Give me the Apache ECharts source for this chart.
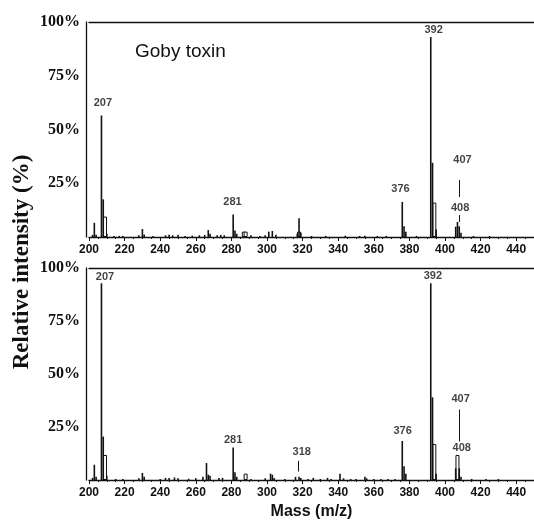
<!DOCTYPE html>
<html>
<head>
<meta charset="utf-8">
<script src="https://cdn.jsdelivr.net/npm/echarts@6/dist/echarts.min.js"></script>
<style>
  html, body { margin: 0; padding: 0; background: #fff; }
  #chart { width: 534px; height: 521px; }
</style>
</head>
<body>
<div id="chart"></div>
<script>
// mass spectra of goby toxin (top) and reference (bottom), [m/z, % intensity]
var topSticks = [
  [202, 1], [203, 6.6], [204, 1], [207, 56.5], [208, 17.5], [210, 1.5], [214, 0.5],
  [217, 0.5], [219, 0.5], [228, 0.8], [230, 3.7], [231, 1.2], [236, 0.5], [243, 0.8],
  [245, 1], [247, 0.8], [250, 1], [254, 0.5], [258, 0.6], [262, 0.8], [265, 1],
  [267, 3.2], [268, 1.5], [272, 0.8], [274, 1], [276, 0.8], [281, 10.5], [282, 3],
  [283, 1.5], [291, 0.8], [296, 0.5], [299, 0.8], [301, 2.5], [303, 2.8], [305, 1],
  [317, 1.5], [318, 8.7], [319, 2], [325, 0.5], [333, 0.5], [344, 0.6], [352, 0.5],
  [355, 0.6], [362, 0.5], [367, 0.5], [376, 16.3], [377, 5], [378, 2.5], [384, 0.5],
  [392, 93], [393, 34.5], [395, 3.5], [406, 4.8], [407, 7], [408, 5], [409, 2],
  [416, 0.5], [425, 0.5]
];
var topBoxes = [[209, 9.5], [287, 2.5], [288, 2.5], [318, 2.5], [394, 16]];

var bottomSticks = [
  [202, 1], [203, 7.2], [204, 1.5], [207, 92.8], [208, 20.5], [210, 2], [215, 0.5],
  [219, 0.5], [228, 0.8], [230, 3.3], [231, 1.5], [240, 0.5], [243, 1], [245, 1],
  [248, 1.2], [250, 0.8], [256, 0.6], [260, 0.8], [264, 1.5], [266, 8], [267, 2.5],
  [268, 2], [273, 1], [275, 1], [281, 15.3], [282, 3.7], [283, 1.5], [291, 0.5],
  [299, 0.8], [302, 3], [303, 2.5], [304, 1], [310, 0.5], [316, 1.5], [318, 1.5],
  [319, 1], [323, 0.5], [326, 1], [330, 0.5], [334, 1], [336, 0.5], [341, 3],
  [343, 0.8], [347, 0.5], [350, 0.5], [355, 1.5], [356, 0.8], [360, 0.5], [364, 0.5],
  [368, 0.5], [372, 0.5], [376, 18.4], [377, 6.5], [378, 3], [392, 92.8], [393, 39],
  [395, 3], [406, 5.5], [408, 5.5], [409, 1.5], [415, 0.5], [423, 0.5], [430, 0.5]
];
var bottomBoxes = [[209, 11.8], [288, 3], [394, 17], [407, 11.8]];

// peak labels: [x, y, text]
var topLabels = [
  [207.8, 62.3, '207'], [280.6, 16.3, '281'], [375, 22.3, '376'],
  [393.6, 96.3, '392'], [409.8, 35.8, '407'], [408.5, 13.5, '408']
];
var bottomLabels = [
  [209, 95.8, '207'], [281, 18.7, '281'], [319.5, 13.1, '318'], [376.2, 22.9, '376'],
  [393.2, 96.3, '392'], [408.8, 38.3, '407'], [409.4, 15, '408']
];
// leader lines under labels: [x, yFrom, yTo]
var topLeaders = [[408, 26.5, 18.6], [408.2, 10.2, 7]];
var bottomLeaders = [[408.2, 33.2, 18.2], [317.5, 9, 4]];

var ink = '#111';

function leaderLines(list) {
  return list.map(function (d) {
    return [{ coord: [d[0], d[1]] }, { coord: [d[0], d[2]] }];
  });
}

function panel(i, sticks, boxes, labels, leaders) {
  return [{
    type: 'bar',
    xAxisIndex: i * 2,
    yAxisIndex: i,
    data: sticks,
    barWidth: 1.6,
    itemStyle: { color: ink },
    silent: true,
    z: 3
  }, {
    type: 'bar',
    xAxisIndex: i * 2 + 1,
    yAxisIndex: i,
    data: boxes,
    barWidth: 4,
    itemStyle: { color: '#fff', borderColor: ink, borderWidth: 1 },
    silent: true,
    z: 2
  }, {
    type: 'scatter',
    xAxisIndex: i * 2,
    yAxisIndex: i,
    data: labels,
    symbolSize: 0,
    label: {
      show: true,
      position: 'inside',
      formatter: function (p) { return p.data[2]; },
      fontFamily: 'Liberation Sans',
      fontWeight: 'bold',
      fontSize: 11,
      color: ink
    },
    markLine: {
      silent: true,
      symbol: 'none',
      label: { show: false },
      lineStyle: { color: ink, width: 1, type: 'solid' },
      data: leaderLines(leaders)
    },
    z: 4
  }];
}

var grids = [
  { left: 89, top: 22, width: 447, height: 215 },
  { left: 89, top: 268, width: 447, height: 214 }
];

var xAxes = [];
var yAxes = [];
grids.forEach(function (g, i) {
  xAxes.push({
    type: 'value',
    gridIndex: i,
    min: 200,
    max: 450,
    interval: 20,
    axisLine: { lineStyle: { color: ink, width: 1.3 } },
    axisTick: { length: 4, lineStyle: { color: ink } },
    minorTick: { show: true, splitNumber: 4, length: 2, lineStyle: { color: ink } },
    axisLabel: {
      showMaxLabel: false,
      fontFamily: 'Liberation Sans',
      fontWeight: 'bold',
      fontSize: 12,
      color: ink,
      margin: 7
    },
    splitLine: { show: false },
    name: i === 1 ? 'Mass (m/z)' : '',
    nameLocation: 'middle',
    nameGap: 24,
    nameTextStyle: { fontFamily: 'Liberation Sans', fontWeight: 'bold', fontSize: 16, color: ink }
  });
  xAxes.push({
    type: 'value',
    gridIndex: i,
    position: 'top',
    min: 200,
    max: 450,
    axisLine: { show: true, lineStyle: { color: ink, width: 1.3 } },
    axisTick: { show: false },
    axisLabel: { show: false },
    splitLine: { show: false }
  });
  yAxes.push({
    type: 'value',
    gridIndex: i,
    min: 0,
    max: 100,
    interval: 25,
    offset: 3,
    axisLine: { show: true, lineStyle: { color: ink, width: 1.3 } },
    axisTick: { show: false },
    splitLine: { show: false },
    axisLabel: {
      formatter: function (v) { return v === 0 ? '' : v + '%'; },
      fontFamily: 'Liberation Serif',
      fontWeight: 'bold',
      fontSize: 16,
      color: ink,
      margin: 6
    }
  });
});

var chart = echarts.init(document.getElementById('chart'));
chart.setOption({
  backgroundColor: '#fff',
  animation: false,
  grid: grids,
  xAxis: xAxes,
  yAxis: yAxes,
  graphic: [{
    type: 'text',
    left: 135,
    top: 42,
    style: { text: 'Goby toxin', font: '19px "Liberation Sans"', fill: ink }
  }, {
    type: 'text',
    x: 22,
    y: 262,
    rotation: Math.PI / 2,
    style: {
      text: 'Relative intensity (%)',
      font: 'bold 23px "Liberation Serif"',
      fill: ink,
      align: 'center',
      verticalAlign: 'middle'
    }
  }],
  series: panel(0, topSticks, topBoxes, topLabels, topLeaders)
    .concat(panel(1, bottomSticks, bottomBoxes, bottomLabels, bottomLeaders))
});
</script>
</body>
</html>
